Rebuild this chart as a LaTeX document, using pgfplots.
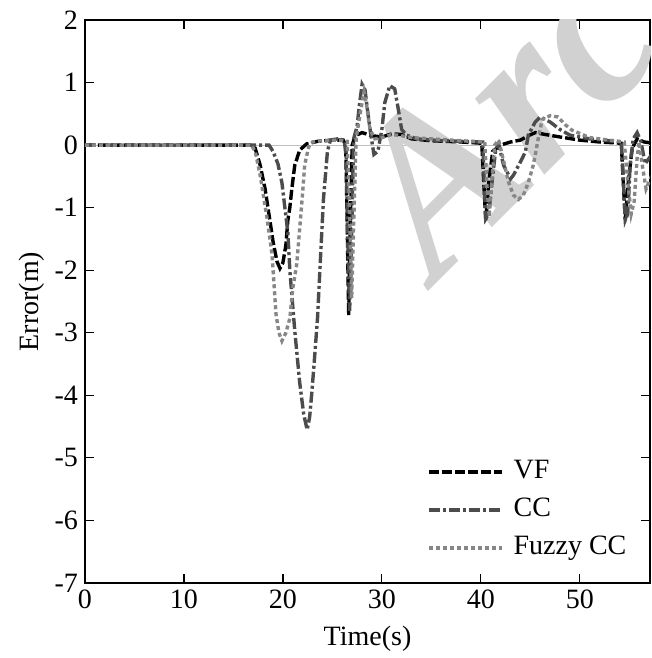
\documentclass[border=0pt]{standalone}
\usepackage{pgfplots}
\pgfplotsset{compat=1.18}
\usepackage{fontspec}
\setmainfont{Liberation Serif}
\begin{document}
\begin{tikzpicture}
\begin{axis}[
  name=ax,
  scale only axis,
  width=282.5pt, height=281.5pt,
  xmin=0, xmax=57.1, ymin=-7, ymax=2,
  xtick={0,10,20,30,40,50},
  xticklabels={0,10,20,30,40,50},
  ytick={-7,-6,-5,-4,-3,-2,-1,0,1,2},
  yticklabels={-7,-6,-5,-4,-3,-2,-1,0,1,2},
  tick align=inside,
  major tick length=4.5pt,
  every tick/.style={black, line width=0.6pt},
  axis line style={line width=0.9pt},
  font=\fontsize{14}{16}\selectfont,
  xlabel={Time(s)},
  ylabel={Error(m)},
  xlabel style={yshift=-1.5pt},
  ylabel style={yshift=-2pt},
  extra y ticks={0},
  extra y tick labels={},
  extra y tick style={grid=major, major grid style={black!25, line width=0.5pt}, major tick length=0pt},
  legend image code/.code={\draw[#1] (0pt,0pt) -- (36.5pt,0pt);},
  legend style={draw=none, fill=none, inner sep=0pt,
    at={(axis description cs:0.605,0.13)}, anchor=west,
    row sep=6pt, column sep=5pt,
    nodes={inner sep=0pt, outer sep=0pt, font=\fontsize{14}{16}\selectfont, text height=10pt, text depth=3pt}},
  legend cell align=left,
  legend columns=1,
]
\node[overlay, rotate=45, anchor=base west, text=black!18,
  font=\fontsize{112}{112}\selectfont\bfseries\itshape]
  at (axis cs:35.0,-2.3) {Archive};
\addplot[black, line width=1.7pt, dash pattern=on 5pt off 1.5pt] coordinates {
(0,0)(16.8,0)(17.2,-0.05)(17.7,-0.32)(18.2,-0.7)(18.7,-1.22)(19.0,-1.54)(19.4,-1.86)(19.7,-1.97)(20.0,-1.88)(20.3,-1.6)(20.5,-1.2)(20.7,-1.0)(20.9,-0.7)(21.2,-0.32)(21.7,-0.08)(22.4,0.02)(23.5,0.06)(25,0.08)(26.1,0.08)(26.35,0)(26.5,-1.3)(26.65,-2.72)(26.8,-1.4)(27.0,0.0)(27.3,0.15)(28,0.2)(29,0.15)(30,0.13)(31,0.18)(32,0.17)(33,0.1)(35,0.07)(38,0.05)(40.1,0.03)(40.3,-0.6)(40.5,-1.2)(40.8,-0.6)(41.2,-0.1)(42,0.0)(43,0.05)(44,0.08)(44.8,0.15)(45.5,0.2)(46.5,0.17)(48,0.13)(50,0.08)(52,0.05)(54.2,0.03)(54.4,-0.6)(54.6,-1.2)(54.9,-0.6)(55.3,-0.05)(55.8,0.1)(56.5,0.05)(57.5,0.03)
};
\addlegendentry{VF}
\addplot[black!70, line width=1.7pt, dash pattern=on 5.5pt off 1.5pt on 1.5pt off 1.5pt] coordinates {
(0,0)(18.6,0)(19.0,-0.1)(19.5,-0.3)(19.9,-0.6)(20.2,-1.0)(20.5,-1.4)(20.7,-2.0)(21.2,-2.97)(21.7,-3.8)(22.1,-4.3)(22.45,-4.55)(22.7,-4.35)(22.9,-4.0)(23.2,-3.4)(23.5,-2.76)(23.8,-1.8)(24.1,-0.86)(24.5,-0.1)(24.8,0.08)(25.5,0.1)(26.2,0.08)(26.4,-0.2)(26.55,-1.5)(26.75,-2.65)(26.95,-1.4)(27.15,0.1)(27.5,0.3)(27.7,0.6)(28.0,0.97)(28.3,0.88)(28.6,0.5)(28.9,0.15)(29.2,-0.15)(29.6,-0.1)(30.0,0.25)(30.3,0.68)(30.8,0.95)(31.3,0.9)(31.6,0.63)(32.0,0.25)(32.5,0.16)(33.5,0.1)(36,0.07)(40.2,0.05)(40.35,-0.6)(40.5,-1.18)(40.8,-1.1)(41.2,-0.5)(41.5,-0.08)(41.8,0.02)(42.3,-0.32)(43.0,-0.54)(43.3,-0.48)(44.0,-0.27)(44.5,-0.11)(44.8,0.16)(45.5,0.37)(46.0,0.45)(47.0,0.37)(48.0,0.25)(49.0,0.16)(51,0.1)(54.2,0.05)(54.45,-0.7)(54.6,-1.2)(54.85,-1.1)(55.1,-0.3)(55.4,0.1)(55.8,0.2)(56.2,0.05)(56.6,-0.3)(57.5,-0.1)
};
\addlegendentry{CC}
\addplot[black!47, line width=1.7pt, dash pattern=on 2pt off 1.5pt] coordinates {
(0,0)(16.8,0)(17.2,-0.1)(17.7,-0.48)(18.4,-1.17)(18.9,-1.75)(19.05,-2.1)(19.3,-2.7)(19.6,-3.0)(19.9,-3.13)(20.3,-3.0)(20.7,-2.77)(21.0,-2.29)(21.4,-1.9)(21.7,-1.33)(22.0,-0.75)(22.2,-0.32)(22.6,-0.03)(23,0.05)(24,0.07)(25.5,0.08)(26.5,0.06)(26.7,-0.8)(26.95,-2.45)(27.2,-1.0)(27.4,0.1)(27.8,0.5)(28.2,0.85)(28.5,0.6)(28.8,0.25)(29.3,0.1)(30,0.12)(31,0.17)(32,0.15)(33,0.12)(35,0.1)(38,0.07)(40.4,0.05)(40.6,-0.6)(40.85,-1.15)(41.1,-0.6)(41.4,0.0)(41.8,0.08)(42.3,-0.25)(42.8,-0.59)(43.3,-0.8)(43.8,-0.87)(44.3,-0.8)(44.8,-0.6)(45.3,-0.32)(45.5,-0.16)(45.8,0.1)(46.2,0.41)(47.0,0.47)(47.8,0.45)(48.5,0.33)(49.2,0.24)(51,0.12)(53,0.08)(54.5,0.05)(54.8,-0.5)(55.2,-1.1)(55.5,-0.9)(55.8,-0.2)(56.0,0.05)(56.3,-0.3)(56.7,-0.7)(57.5,-0.4)
};
\addlegendentry{Fuzzy CC}
\end{axis}
\pgfresetboundingbox
\path ([shift={(-42.5pt,-37.5pt)}]ax.south west) rectangle ([shift={(0.5pt,10pt)}]ax.north east);
\end{tikzpicture}
\end{document}
